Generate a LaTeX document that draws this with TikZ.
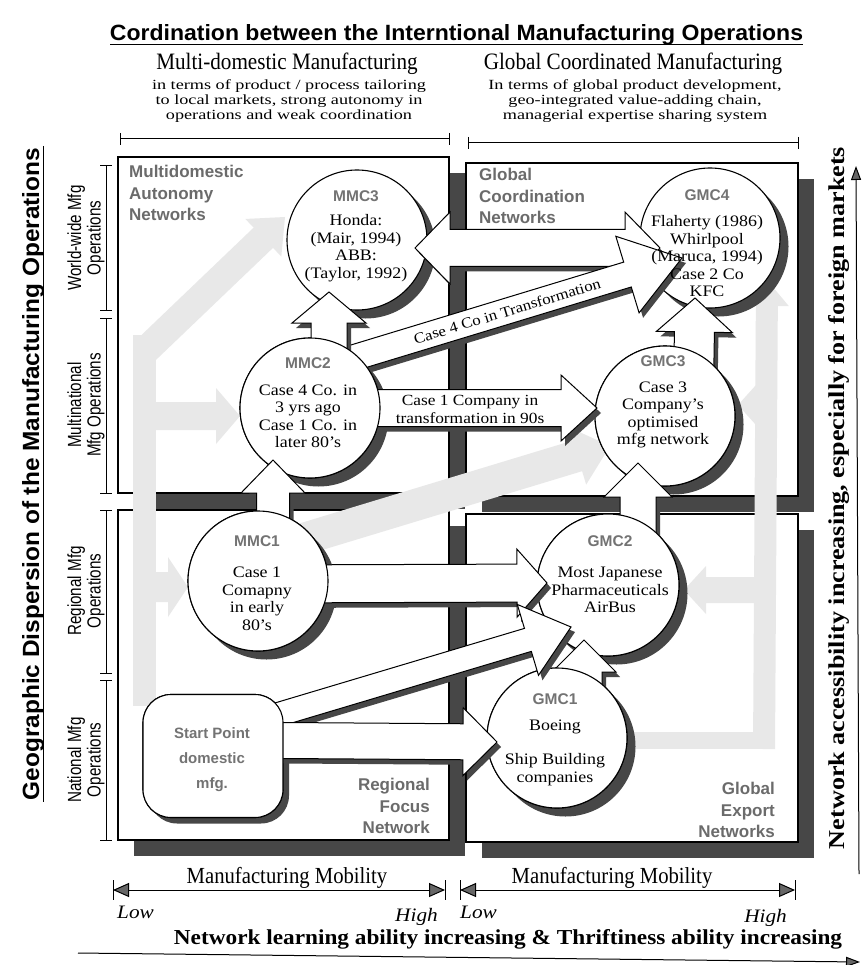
\documentclass[tikz,border=0pt]{standalone}
\usepackage{fontspec}
\usepackage{graphicx}
\setmainfont{Liberation Serif}[FakeStretch=1.12]
\newfontfamily\sansf{Liberation Sans}
\newfontfamily\narrowsans{Liberation Sans}[FakeStretch=0.8]
\newfontfamily\headserif{Liberation Serif}[FakeStretch=0.9]
\newfontfamily\wideserif{Liberation Serif}[FakeStretch=1.3]
\usetikzlibrary{calc,shadows,arrows.meta}

% outline of a block arrow: style, tail, tip, shaft half width, head half width, head length
\newcommand\arrpath[6]{%
  \path[#1] ($(#2)!#4!90:(#3)$) -- ($(#3)!#6!(#2)!#4!-90:(#2)$) -- ($(#3)!#6!(#2)!#5!-90:(#2)$)
    -- (#3) -- ($(#3)!#6!(#2)!#5!90:(#2)$) -- ($(#3)!#6!(#2)!#4!90:(#2)$) -- ($(#2)!#4!-90:(#3)$);}
% block arrow with its dark drop shadow, open at the tail
\newcommand\blockarrow[5]{%
  \arrpath{arrshade}{#1}{#2}{#3}{#4}{#5}%
  \arrpath{fill=white}{#1}{#2}{#3}{#4}{#5}%
  \arrpath{arrline}{#1}{#2}{#3}{#4}{#5}}
% double headed block arrow: style, left tip, right tip, shaft half width, head half width, head length
\newcommand\darrpath[6]{%
  \path[#1] (#2) -- ($(#2)!#6!(#3)!#5!90:(#3)$) -- ($(#2)!#6!(#3)!#4!90:(#3)$)
    -- ($(#3)!#6!(#2)!#4!-90:(#2)$) -- ($(#3)!#6!(#2)!#5!-90:(#2)$) -- (#3)
    -- ($(#3)!#6!(#2)!#5!90:(#2)$) -- ($(#3)!#6!(#2)!#4!90:(#2)$)
    -- ($(#2)!#6!(#3)!#4!-90:(#3)$) -- ($(#2)!#6!(#3)!#5!-90:(#3)$) -- cycle;}
% repaint a configuration circle over the tails of its outgoing arrows
\newcommand\recircle[2]{\path[draw, fill=white, line width=1.1pt] (#1.center) circle[radius=#2];}
\newcommand\mlab[1]{{\sansf\bfseries\color{black!55}\fontsize{15.5}{17}\selectfont #1}}

\begin{document}
\begin{tikzpicture}[x=1pt,y=-1pt,
  qbox/.style={draw, line width=1.2pt, fill=white, inner sep=0pt, outer sep=0pt, anchor=north west,
     drop shadow={shadow xshift=16pt, shadow yshift=-16pt, fill=black!72, opacity=1}},
  mc/.style={circle, draw, line width=1.1pt, fill=white, minimum size=140pt, inner sep=0pt,
     drop shadow={shadow xshift=8.5pt, shadow yshift=-8.5pt, fill=black!72, opacity=1}},
  ctext/.style={align=center, inner sep=0pt, font=\fontsize{16}{17.5}\selectfont},
  startbox/.style={draw, line width=1.1pt, fill=white, rounded corners=28pt, minimum width=140pt,
     minimum height=123pt, inner sep=0pt,
     drop shadow={shadow xshift=6pt, shadow yshift=-6pt, fill=black!72, opacity=1}},
  arrshade/.style={fill=black!72, transform canvas={shift={(4pt,-5pt)}}},
  arrline/.style={draw, line width=1pt, line join=miter},
  faint/.style={fill=black!9},
  qlabel/.style={font=\sansf\bfseries\fontsize{17}{21.5}\selectfont, text=black!58, inner sep=0pt},
  sidelabel/.style={rotate=90, align=center, inner sep=0pt, font=\narrowsans\fontsize{19}{19.5}\selectfont},
  bracket/.style={line width=1pt},
  mobility/.style={line width=1pt,
     arrows={Triangle[length=16pt,width=14pt,fill=black!60]-Triangle[length=16pt,width=14pt,fill=black!60]}},
  axisline/.style={line width=1pt, -{Triangle[length=14pt,width=10pt,fill=black!60]}},
]
\fill[white] (0,0) rectangle (862,965);
\useasboundingbox (0,0) rectangle (862,965);

% ---------- the four network quadrants ----------
\node[qbox, minimum width=331pt, minimum height=336pt] (tl) at (118,157) {};
\node[qbox, minimum width=332pt, minimum height=333pt] (tr) at (466,163) {};
\node[qbox, minimum width=331pt, minimum height=330pt] (bl) at (118,510) {};
\node[qbox, minimum width=332pt, minimum height=328pt] (br) at (466,514) {};

% ---------- faint background paths ----------
\fill[faint] (133,335) rectangle (156,706);
\coordinate (f1t) at (144,352); \coordinate (f1h) at (285,217);
\arrpath{faint}{f1t}{f1h}{14pt}{26pt}{30pt}
\coordinate (f2t) at (140,416); \coordinate (f2h) at (240,416);
\arrpath{faint}{f2t}{f2h}{14pt}{28pt}{24pt}
\coordinate (f3t) at (140,587); \coordinate (f3h) at (188,587);
\arrpath{faint}{f3t}{f3h}{15pt}{30pt}{20pt}
\coordinate (f4t) at (300,540); \coordinate (f4h) at (610,446);
\arrpath{faint}{f4t}{f4h}{16pt}{30pt}{34pt}
\fill[faint] (627,732) rectangle (775,749);
\coordinate (f5t) at (764,749); \coordinate (f5h) at (767,280);
\arrpath{faint}{f5t}{f5h}{11pt}{22pt}{26pt}
\coordinate (f6t) at (764,590); \coordinate (f6h) at (684,590);
\arrpath{faint}{f6t}{f6h}{13pt}{24pt}{22pt}
\coordinate (f7t) at (764,405); \coordinate (f7h) at (738,405);
\arrpath{faint}{f7t}{f7h}{11pt}{20pt}{18pt}

% ---------- configurations ----------
\node[mc] (mmc3) at (357,240) {};
\node[mc] (gmc4) at (710,238) {};
\node[mc] (mmc2) at (310,408) {};
\node[mc] (gmc3) at (665,416) {};
\node[mc] (mmc1) at (258,581) {};
\node[mc, minimum size=142pt] (gmc2) at (608,585) {};
\node[mc] (gmc1) at (557,738) {};
\node[startbox] (start) at (213,756) {};

% ---------- block arrows (targets first, each source repainted after its arrows) ----------
\coordinate (a11l) at (415,248); \coordinate (a11r) at (660,248);
\darrpath{arrshade}{a11l}{a11r}{18.5pt}{36pt}{35pt}
\darrpath{fill=white}{a11l}{a11r}{18.5pt}{36pt}{35pt}
\darrpath{arrline}{a11l}{a11r}{18.5pt}{36pt}{35pt}

\coordinate (a3t) at (693,416); \coordinate (a3h) at (695,298);
\blockarrow{a3t}{a3h}{20pt}{38pt}{34pt}
\recircle{gmc3}{70pt}

\coordinate (a4t) at (638,585); \coordinate (a4h) at (638,463);
\blockarrow{a4t}{a4h}{18pt}{34pt}{34pt}
\recircle{gmc2}{71pt}

\coordinate (a5t) at (584,738); \coordinate (a5h) at (584,640);
\blockarrow{a5t}{a5h}{18pt}{32pt}{32pt}
\recircle{gmc1}{70pt}

\coordinate (a10t) at (310,371); \coordinate (a10h) at (682,258);
\blockarrow{a10t}{a10h}{13pt}{40pt}{57pt}
\coordinate (a1t) at (329,400); \coordinate (a1h) at (329,292);
\blockarrow{a1t}{a1h}{18pt}{37pt}{31pt}
\coordinate (a6t) at (310,408); \coordinate (a6h) at (597,408);
\blockarrow{a6t}{a6h}{18.5pt}{33pt}{36pt}
\recircle{mmc2}{70pt}

\coordinate (a2t) at (273,581); \coordinate (a2h) at (273,460);
\blockarrow{a2t}{a2h}{16.5pt}{32pt}{33pt}
\coordinate (a7t) at (258,584); \coordinate (a7h) at (547,583);
\blockarrow{a7t}{a7h}{19pt}{34pt}{30pt}
\recircle{mmc1}{70pt}

\coordinate (a9t) at (213,734); \coordinate (a9h) at (571,627);
\blockarrow{a9t}{a9h}{12pt}{37pt}{45pt}
\coordinate (a8t) at (213,740); \coordinate (a8h) at (497,742);
\blockarrow{a8t}{a8h}{18pt}{34pt}{34pt}
\path[draw, fill=white, line width=1.1pt, rounded corners=28pt]
  ($(start.center)+(-70,-61.5)$) rectangle ($(start.center)+(70,61.5)$);

% ---------- texts on arrows ----------
\path (a10t) -- (a10h) node[pos=0.53, sloped, inner sep=0pt, font=\fontsize{15}{16}\selectfont] (case4txt) {Case 4 Co in Transformation};
\node[ctext, font=\fontsize{15.5}{18}\selectfont] (case1txt) at (470,409) {Case 1 Company in\\transformation in 90s};

% ---------- texts in configurations ----------
\node[ctext] (mmc3txt) at (356,236) {\mlab{MMC3}\\[7pt]Honda:\\(Mair, 1994)\\ABB:\\(Taylor, 1992)};
\node[ctext] (gmc4txt) at (707,243) {\mlab{GMC4}\\[9pt]Flaherty (1986)\\Whirlpool\\(Maruca, 1994)\\Case 2 Co\\KFC};
\node[ctext] (mmc2txt) at (308,403) {\mlab{MMC2}\\[9pt]Case 4 Co. in\\3 yrs ago\\Case 1 Co. in\\later 80's};
\node[ctext] (gmc3txt) at (663,402) {\mlab{GMC3}\\[8pt]Case 3\\Company's\\optimised\\mfg network};
\node[ctext] (mmc1txt) at (257,583) {\mlab{MMC1}\\[14pt]Case 1\\Comapny\\in early\\80's};
\node[ctext] (gmc2txt) at (610,574) {\mlab{GMC2}\\[14pt]Most Japanese\\Pharmaceuticals\\AirBus};
\node[ctext] (gmc1txt) at (555,740) {\mlab{GMC1}\\[8pt]Boeing\\[17pt]Ship Building\\companies};
\node[align=center, inner sep=0pt, text=black!55, font=\sansf\bfseries\fontsize{15}{25}\selectfont] (starttxt) at (212,760) {Start Point\\domestic\\mfg.};

% ---------- quadrant names ----------
\node[qlabel, anchor=north west, align=left] (tlname) at (129,165) {Multidomestic\\Autonomy\\Networks};
\node[qlabel, anchor=north west, align=left] (trname) at (479,168) {Global\\Coordination\\Networks};
\node[qlabel, anchor=south east, align=right] (blname) at (430,834) {Regional\\Focus\\Network};
\node[qlabel, anchor=south east, align=right] (brname) at (775,838) {Global\\Export\\Networks};

% ---------- heading ----------
\node[anchor=base, inner sep=0pt] (title) at (456.5,41) {\resizebox{693pt}{16pt}{\sansf\bfseries Cordination between the Interntional Manufacturing Operations}};
\draw[line width=1pt] (110,45) -- (803,45);
\node[anchor=base, inner sep=0pt, font=\headserif\fontsize{23.5}{25}\selectfont] (mdhead) at (287,70) {Multi-domestic Manufacturing};
\node[anchor=base, inner sep=0pt, font=\headserif\fontsize{23.5}{25}\selectfont] (gchead) at (633,70) {Global Coordinated Manufacturing};
\node[anchor=north, align=center, inner sep=0pt, font=\wideserif\fontsize{14}{15}\selectfont] (mdsub) at (289,79) {in terms of product / process tailoring\\to local markets, strong autonomy in\\operations and weak coordination};
\node[anchor=north, align=center, inner sep=0pt, font=\wideserif\fontsize{14}{15}\selectfont] (gcsub) at (635,79) {In terms of global product development,\\geo-integrated value-adding chain,\\managerial expertise sharing system};
\draw[bracket] (120,139) -- (449,139) (120,133) -- (120,145) (449,133) -- (449,145);
\draw[bracket] (468,143) -- (798,143) (468,137) -- (468,149) (798,137) -- (798,149);

% ---------- left axis ----------
\node[rotate=90, anchor=base, inner sep=0pt] (ytitle) at (39,474) {\resizebox{652pt}{17pt}{\sansf\bfseries Geographic Dispersion of the Manufacturing Operations}};
\draw[line width=1pt] (43,146) -- (43,802);
\node[sidelabel] (lww) at (86,238) {World-wide Mfg\\Operations};
\node[sidelabel] (lmn) at (86,405) {Multinational\\Mfg Operations};
\node[sidelabel] (lrg) at (86,591) {Regional Mfg\\Operations};
\node[sidelabel] (lnt) at (86,760) {National Mfg\\Operations};
\draw[bracket] (106,166) -- (106,310) (100,166) -- (112,166) (100,310) -- (112,310);
\draw[bracket] (106,318) -- (106,493) (100,318) -- (112,318) (100,493) -- (112,493);
\draw[bracket] (106,510) -- (106,673) (100,510) -- (112,510) (100,673) -- (112,673);
\draw[bracket] (106,680) -- (106,840) (100,680) -- (112,680) (100,840) -- (112,840);

% ---------- right axis ----------
\node[rotate=90, anchor=base, inner sep=0pt] (rtitle) at (844,498) {\resizebox{702pt}{16pt}{\headserif\bfseries Network accessibility increasing, especially for foreign markets}};
\coordinate (ry1) at (859,874); \coordinate (ry2) at (856,166);
\draw[axisline] (ry1) -- (ry2);

% ---------- bottom axis ----------
\coordinate (ml1) at (113,890); \coordinate (ml2) at (445,890);
\draw[mobility] (ml1) -- (ml2);
\draw[bracket] (113,880) -- (113,900) (445,880) -- (445,900);
\coordinate (mr1) at (460,890); \coordinate (mr2) at (795,890);
\draw[mobility] (mr1) -- (mr2);
\draw[bracket] (460,880) -- (460,900) (795,880) -- (795,900);
\node[anchor=base, inner sep=0pt, font=\headserif\fontsize{23}{24}\selectfont] (mmleft) at (287,883) {Manufacturing Mobility};
\node[anchor=base, inner sep=0pt, font=\headserif\fontsize{23}{24}\selectfont] (mmright) at (612,883) {Manufacturing Mobility};
\node[anchor=base west, inner sep=0pt, font=\itshape\fontsize{19}{20}\selectfont] (lowl) at (117,918) {Low};
\node[anchor=base east, inner sep=0pt, font=\itshape\fontsize{19}{20}\selectfont] (highl) at (438,921) {High};
\node[anchor=base west, inner sep=0pt, font=\itshape\fontsize{19}{20}\selectfont] (lowr) at (460,918) {Low};
\node[anchor=base east, inner sep=0pt, font=\itshape\fontsize{19}{20}\selectfont] (highr) at (787,922) {High};
\node[anchor=base, inner sep=0pt] (xtitle) at (508,944) {\resizebox{668pt}{15pt}{\headserif\bfseries Network learning ability increasing \& Thriftiness ability increasing}};
\coordinate (bx1) at (78,953); \coordinate (bx2) at (860,962);
\draw[axisline] (bx1) -- (bx2);
\end{tikzpicture}
\end{document}
